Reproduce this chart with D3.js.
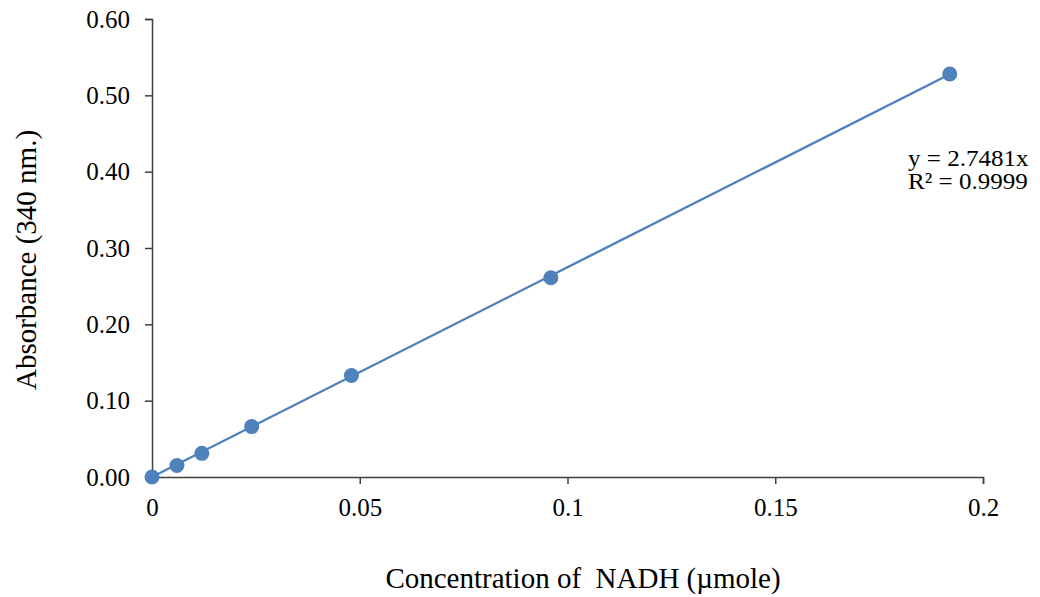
<!DOCTYPE html>
<html>
<head>
<meta charset="utf-8">
<script src="https://cdn.jsdelivr.net/npm/d3@7"></script>
<style>
  body { margin: 0; background: #fff; }
  text { font-family: "Liberation Serif", "Times New Roman", serif; fill: #000; }
</style>
</head>
<body>
<svg id="chart" width="1040" height="597"></svg>
<script>
// NADH concentration (µmole) vs absorbance at 340 nm
const concentrations = [0, 0.006, 0.012, 0.024, 0.048, 0.096, 0.192];
const absorbances = [0, 0.015, 0.031, 0.066, 0.133, 0.261, 0.528];
const xTicks = [0, 0.05, 0.1, 0.15, 0.2];
const yTicks = [0, 0.1, 0.2, 0.3, 0.4, 0.5, 0.6];
const slope = 2.7481;
const rSquared = '0.9999';

const svg = d3.select('#chart');
const color = '#4f81bd';
const axisColor = '#404040';

const margin = {left: 152, right: 57, top: 19, bottom: 120};
const width = 1040 - margin.left - margin.right;
const height = 597 - margin.top - margin.bottom;

const xScale = d3.scaleLinear().domain([0, 0.2]).range([0, width]);
const yScale = d3.scaleLinear().domain([0, 0.6]).range([height, 0]);

const g = svg.append('g').attr('transform', `translate(${margin.left},${margin.top})`);

// axes
const xAxis = g.append('g')
  .attr('transform', `translate(0,${height})`)
  .call(d3.axisBottom(xScale).tickValues(xTicks).tickSize(7).tickPadding(14)
    .tickFormat(d => d === 0 ? '0' : String(+d.toFixed(2))));

const yAxis = g.append('g')
  .call(d3.axisLeft(yScale).tickValues(yTicks).tickSize(7).tickPadding(15)
    .tickFormat(d3.format('.2f')));

[xAxis, yAxis].forEach(a => {
  a.select('.domain').attr('stroke', axisColor).attr('stroke-width', 1.5);
  a.selectAll('.tick line').attr('stroke', axisColor).attr('stroke-width', 1.5);
  a.selectAll('.tick text')
    .attr('font-family', '"Liberation Serif", "Times New Roman", serif')
    .attr('font-size', 25)
    .attr('fill', '#000');
});

// trendline y = slope * x
const xMax = d3.max(concentrations);
g.append('line')
  .attr('x1', xScale(0))
  .attr('y1', yScale(0))
  .attr('x2', xScale(xMax))
  .attr('y2', yScale(slope * xMax))
  .attr('stroke', color)
  .attr('stroke-width', 2.4);

// points
g.selectAll('circle.point')
  .data(concentrations.map((c, i) => ({x: c, y: absorbances[i]})))
  .enter()
  .append('circle')
  .attr('class', 'point')
  .attr('cx', d => xScale(d.x))
  .attr('cy', d => yScale(d.y))
  .attr('r', 7.5)
  .attr('fill', color);

// equation label (slightly stretched horizontally like the original)
const eqLines = [`y = ${slope}x`, `R² = ${rSquared}`];
g.selectAll('text.eq')
  .data(eqLines)
  .enter()
  .append('text')
  .attr('class', 'eq')
  .attr('transform', (d, i) => `translate(756,${147 + i * 23}) scale(1.09,1)`)
  .attr('font-size', 23)
  .text(d => d);

// axis titles
svg.append('text')
  .attr('x', 583)
  .attr('y', 588)
  .attr('text-anchor', 'middle')
  .attr('font-size', 29)
  .attr('xml:space', 'preserve')
  .text('Concentration of  NADH (µmole)');

svg.append('text')
  .attr('transform', 'translate(36,260) rotate(-90)')
  .attr('text-anchor', 'middle')
  .attr('font-size', 29)
  .text('Absorbance (340 nm.)');
</script>
</body>
</html>
